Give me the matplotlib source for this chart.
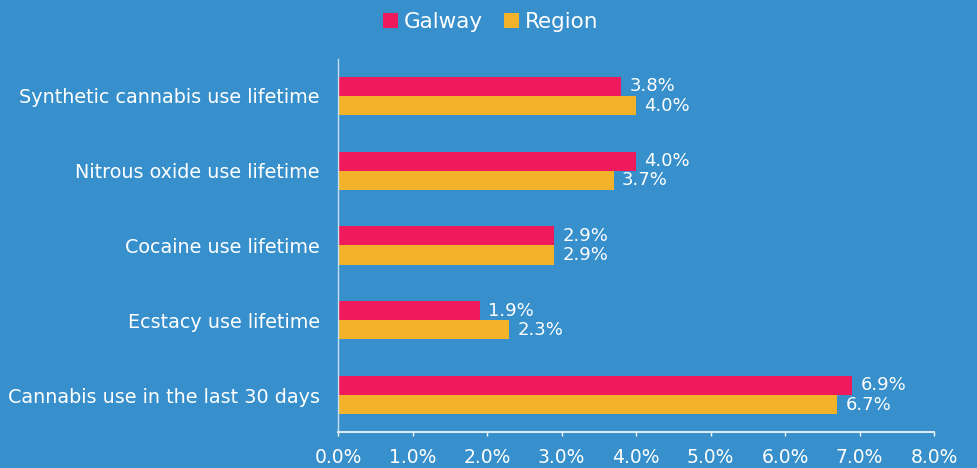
import matplotlib
matplotlib.use('Agg')
import matplotlib.pyplot as plt
import numpy as np

# chart data
categories = ['Synthetic cannabis use lifetime', 'Nitrous oxide use lifetime',
              'Cocaine use lifetime', 'Ecstacy use lifetime',
              'Cannabis use in the last 30 days']
galway = [3.8, 4.0, 2.9, 1.9, 6.9]
region = [4.0, 3.7, 2.9, 2.3, 6.7]
xticks = [0, 1, 2, 3, 4, 5, 6, 7, 8]

bg = '#378fcb'
red = '#ee1a5b'
yellow = '#f2b32a'

plt.rcParams['font.family'] = ['DejaVu Sans']

fig = plt.figure(figsize=(9.77, 4.68), dpi=100, facecolor=bg)
ax = fig.add_axes([0.346, 0.0761, 0.610, 0.7987])
ax.set_facecolor(bg)

y = np.arange(len(categories))
h = 0.255
b1 = ax.barh(y - h / 2, galway, height=h, color=red, label='Galway')
b2 = ax.barh(y + h / 2, region, height=h, color=yellow, label='Region')

for bars, vals in ((b1, galway), (b2, region)):
    for bar, v in zip(bars, vals):
        ax.text(v + 0.11, bar.get_y() + bar.get_height() / 2, f'{v:.1f}%',
                va='center', ha='left', color='white', fontsize=13)

ax.set_ylim(len(categories) - 0.5, -0.5)
ax.set_xlim(0, 8)
ax.set_yticks(y)
ax.set_yticklabels(categories, color='white', fontsize=13.8)
ax.set_xticks(xticks)
ax.set_xticklabels([f'{t:.1f}%' for t in xticks], color='white', fontsize=13.5)
ax.tick_params(axis='y', length=0, pad=13)
ax.tick_params(axis='x', colors='white', length=3, width=1, pad=8)
for t in ax.get_xticklabels():
    t.set_color('white')

for s in ['top', 'right']:
    ax.spines[s].set_visible(False)
ax.spines['left'].set_color('#c9e0f0')
ax.spines['left'].set_linewidth(1)
ax.spines['bottom'].set_color('#dcebf5')
ax.spines['bottom'].set_linewidth(1.5)

leg = fig.legend(handles=[b1, b2], labels=['Galway', 'Region'], loc='center',
                 bbox_to_anchor=(0.502, 0.953), ncol=2, frameon=False,
                 fontsize=15.5, handlelength=0.7, handleheight=0.7,
                 handletextpad=0.25, columnspacing=1.0)
for t in leg.get_texts():
    t.set_color('white')

fig.savefig('out.png', dpi=100, facecolor=bg)
